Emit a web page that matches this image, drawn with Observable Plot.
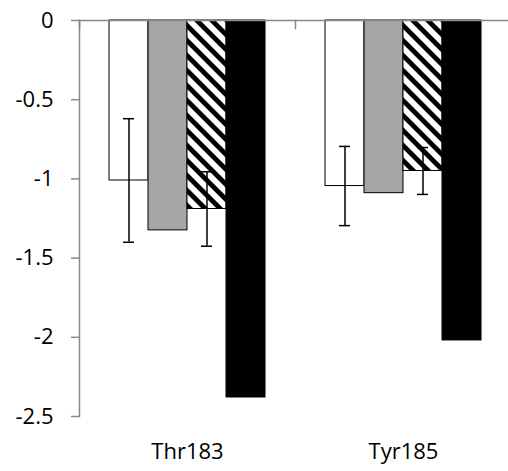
<!DOCTYPE html>
<html><head><meta charset="utf-8">
<script src="https://cdn.jsdelivr.net/npm/d3@7"></script>
<script src="https://cdn.jsdelivr.net/npm/@observablehq/plot@0.6"></script>
<style>html,body{margin:0;padding:0;background:#fff;}</style>
</head><body><div id="chart"></div>
<script>
// ---- data ----
const categories = ["Thr183", "Tyr185"];
const series = ["S1", "S2", "S3", "S4"];
const thr183Values = [-1.01, -1.325, -1.19, -2.38];
const tyr185Values = [-1.045, -1.09, -0.95, -2.02];
const thr183Errors = [0.39, null, 0.235, null];
const tyr185Errors = [0.25, null, 0.148, null];
const yTicks = [0, -0.5, -1, -1.5, -2, -2.5];

// ---- styles ----
const seriesFills = ["white", "#a6a6a6", "url(#hatch)", "black"];
const axisGray = "#898989";
const font = "'Open Sans', sans-serif";

const valuesByCat = [thr183Values, tyr185Values];
const errorsByCat = [thr183Errors, tyr185Errors];
const rows = [];
categories.forEach((cat, ci) => series.forEach((s, si) => {
  rows.push({cat, series: s, value: valuesByCat[ci][si], err: errorsByCat[ci][si]});
}));
const errRows = rows.filter(d => d.err != null);

const svg = Plot.plot({
  width: 508, height: 471,
  marginTop: 20, marginBottom: 55, marginLeft: 79, marginRight: -3,
  style: {fontFamily: font, fontSize: "22px", background: "white", color: "black"},
  fx: {domain: categories, padding: 0, label: null},
  x: {domain: series, paddingInner: 0, paddingOuter: 0.75, axis: null},
  y: {domain: [-2.5, 0]},
  color: {domain: series, range: seriesFills},
  marks: [
    Plot.barY(rows, {fx: "cat", x: "series", y: "value", fill: "series", stroke: "black", strokeWidth: 1}),
    Plot.ruleX(errRows, {fx: "cat", x: "series", y1: d => d.value - d.err, y2: d => d.value + d.err, stroke: "black", strokeWidth: 1.5}),
    Plot.tickY(errRows, {fx: "cat", x: "series", y: d => d.value - d.err, insetLeft: 14, insetRight: 14, stroke: "black", strokeWidth: 1.5}),
    Plot.tickY(errRows, {fx: "cat", x: "series", y: d => d.value + d.err, insetLeft: 14, insetRight: 14, stroke: "black", strokeWidth: 1.5}),
    Plot.frame({anchor: "left", stroke: axisGray, strokeWidth: 1.5, insetBottom: 388}),
    Plot.frame({anchor: "left", facet: "super", stroke: axisGray, strokeWidth: 1.5}),
    Plot.ruleY([0], {stroke: axisGray, strokeWidth: 1.5}),
    Plot.axisY({ticks: yTicks, tickFormat: d => String(d), tickSize: 8, tickPadding: 18,
      stroke: axisGray, strokeWidth: 1.5, fill: "black", label: null, fontSize: 22, fontFamily: font}),
    Plot.axisFx({anchor: "bottom", tickSize: 0, tickPadding: 27, label: null, fontSize: 22, fontFamily: font, fill: "black"})
  ]
});

d3.select(svg).insert("defs", ":first-child").html(
  `<pattern id="hatch" patternUnits="userSpaceOnUse" width="10.6" height="10.6" patternTransform="rotate(45)">
     <rect width="10.6" height="10.6" fill="white"/>
     <rect width="10.6" height="4.8" fill="black"/>
   </pattern>`);
document.getElementById("chart").appendChild(svg);
</script>
</body></html>
